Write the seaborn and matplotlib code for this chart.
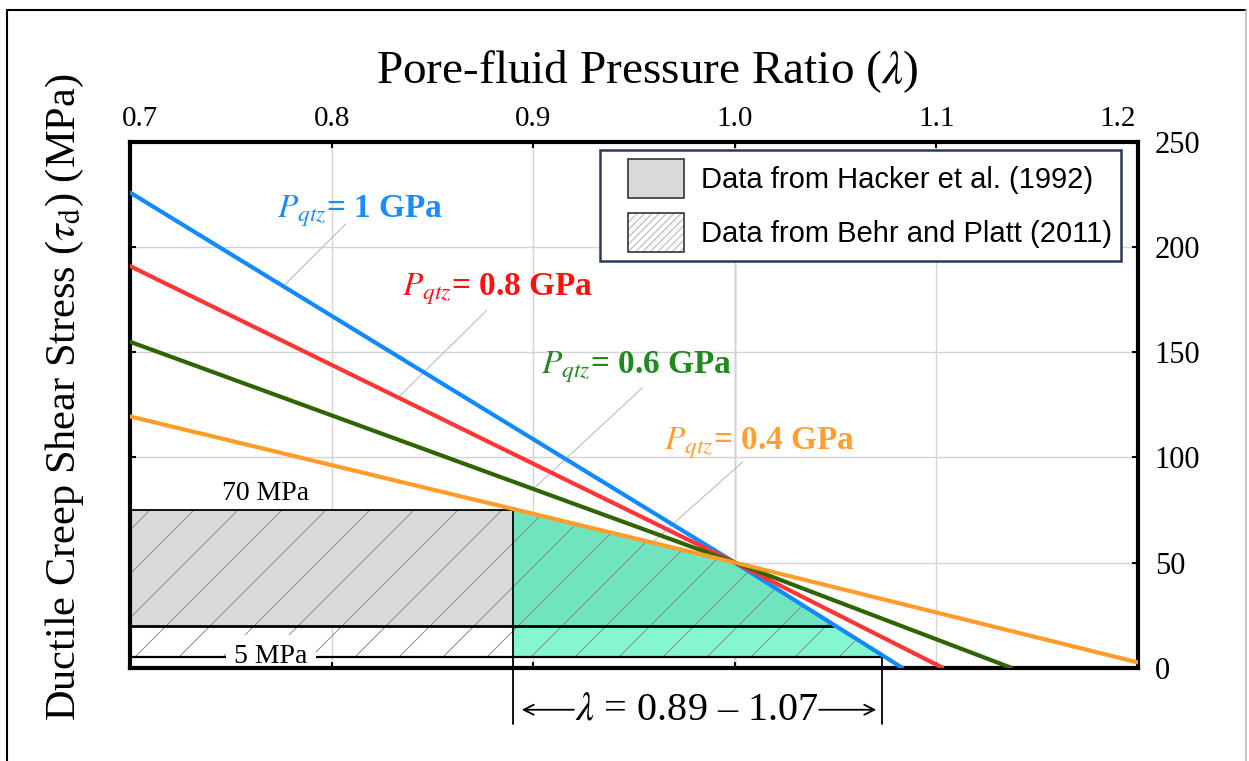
import matplotlib
matplotlib.use('Agg')
import matplotlib.pyplot as plt
import matplotlib.patches as mpatches
import matplotlib.transforms as mtransforms
from matplotlib.legend_handler import HandlerPatch
from matplotlib.lines import Line2D
import numpy as np
import pandas as pd
import seaborn as sns

# ductile creep shear stress vs pore-fluid pressure ratio, one line per P_qtz
lam_1gpa = [0.7, 1.0, 1.083]
tau_1gpa = [226, 50, 0]
lam_08gpa = [0.7, 1.0, 1.103]
tau_08gpa = [191, 50, 0]
lam_06gpa = [0.7, 1.0, 1.137]
tau_06gpa = [155, 50, 0]
lam_04gpa = [0.7, 1.0, 1.2]
tau_04gpa = [119.5, 50, 2.5]

p_names = ['1', '0.8', '0.6', '0.4']
line_colors = ['#0f8bff', '#ff3434', '#2f6400', '#ff9c2a']
label_colors = ['#1a8cff', '#ff1010', '#1f8a1f', '#ff9f2f']

# stress ranges
hacker_lo, hacker_hi = 20, 75      # Hacker et al. (1992)
behr_lo = 5                        # Behr and Platt (2011)
lam_lo, lam_hi = 0.89, 1.073       # resulting lambda range

x_ticks = [0.7, 0.8, 0.9, 1.0, 1.1, 1.2]
y_ticks = [0, 50, 100, 150, 200, 250]

# dpi picked so the hatch spacing matches; K turns "100 dpi points" into real points
DPI = 132
K = 100 / DPI

sns.set_style('white')
plt.rcParams['font.family'] = ['Liberation Serif', 'DejaVu Serif']
plt.rcParams['mathtext.fontset'] = 'stix'
plt.rcParams['hatch.linewidth'] = 0.7 * K
for key in ['text.color', 'axes.labelcolor', 'xtick.color', 'ytick.color']:
    plt.rcParams[key] = 'black'

lines = pd.DataFrame({
    'lam': lam_1gpa + lam_08gpa + lam_06gpa + lam_04gpa,
    'tau': tau_1gpa + tau_08gpa + tau_06gpa + tau_04gpa,
    'P': [p_names[0]] * 3 + [p_names[1]] * 3 + [p_names[2]] * 3 + [p_names[3]] * 3,
})

fig = plt.figure(figsize=(1249 / DPI, 761 / DPI), dpi=DPI)
ax = fig.add_axes([130 / 1249, 1 - 667.7 / 761, 1008 / 1249, 525.7 / 761])

line_sets = [(lam_1gpa, tau_1gpa), (lam_08gpa, tau_08gpa),
             (lam_06gpa, tau_06gpa), (lam_04gpa, tau_04gpa)]

# lower envelope of all lines
def envelope(x):
    return np.min([np.interp(x, l, t) for l, t in line_sets], axis=0)

# Hacker box
ax.fill_between([0.7, lam_lo], hacker_lo, hacker_hi, color='#d9d9d9', lw=0, zorder=1)

# green lambda window
xs = np.linspace(lam_lo, lam_hi, 400)
env = envelope(xs)
ax.fill_between(xs, behr_lo, np.minimum(hacker_lo, env), where=env > behr_lo,
                interpolate=True, color='#84f7d1', lw=0, zorder=1)
ax.fill_between(xs, hacker_lo, env, where=env > hacker_lo,
                interpolate=True, color='#6fe4bf', lw=0, zorder=1)

# Behr and Platt hatched range
xh = np.linspace(0.7, lam_hi, 500)
top = np.minimum(hacker_hi, envelope(xh))
ax.fill_between(xh, behr_lo, top, where=top > behr_lo, interpolate=True,
                facecolor='none', edgecolor='#8a8a8a', hatch='/', lw=0, zorder=2)

# outlines
ax.plot([0.7, lam_lo], [hacker_hi, hacker_hi], color='black', lw=1.3 * K, zorder=3)
ax.plot([lam_lo, lam_lo], [hacker_hi, -27], color='black', lw=1.3 * K, zorder=3, clip_on=False)
x_end20 = np.interp(-hacker_lo, -np.array(tau_1gpa), lam_1gpa)
ax.plot([0.7, x_end20], [hacker_lo, hacker_lo], color='black', lw=2 * K, zorder=3)
ax.plot([0.7, lam_hi], [behr_lo, behr_lo], color='black', lw=1.6 * K, zorder=2.2)
ax.plot([lam_hi, lam_hi], [behr_lo, -27], color='black', lw=1.3 * K, zorder=3, clip_on=False)

sns.lineplot(data=lines, x='lam', y='tau', hue='P', hue_order=p_names,
             palette=dict(zip(p_names, line_colors)), lw=3 * K, legend=False,
             ax=ax, zorder=4)

# line labels and leaders
label_pos = [(0.773, 217), (0.835, 180), (0.904, 143), (0.965, 107)]
leader_from = [(0.807, 211), (0.877, 170), (0.954, 133), (1.004, 98)]
leader_to = [0.776, 0.833, 0.900, 0.959]
for name, col, pos, lf, lt, (lx, ly) in zip(p_names, label_colors, label_pos,
                                            leader_from, leader_to, line_sets):
    ax.plot([lf[0], lt], [lf[1], np.interp(lt, lx, ly)], color='#bdbdbd', lw=0.8 * K, zorder=3)
    ax.text(pos[0], pos[1], r'$P_{qtz}$= ' + name + ' GPa', color=col,
            fontsize=24 * K, fontweight='bold', ha='left', va='center', zorder=5)

ax.text(0.767, 83, '70 MPa', fontsize=20 * K, ha='center', va='center')
ax.text(0.770, behr_lo + 0.5, '5 MPa', fontsize=20 * K, ha='center', va='center', zorder=2.4,
        bbox=dict(facecolor='white', edgecolor='none', pad=6 * K))

# lambda range annotation
ax.annotate('', xy=(0.8925, -20), xytext=(0.922, -20), annotation_clip=False,
            arrowprops=dict(arrowstyle='->', lw=1.3 * K, color='black', mutation_scale=18 * K))
ax.annotate('', xy=(1.072, -20), xytext=(1.040, -20), annotation_clip=False,
            arrowprops=dict(arrowstyle='->', lw=1.3 * K, color='black', mutation_scale=18 * K))
ax.text(0.981, -20, r'$\lambda$ = 0.89 – 1.07', fontsize=29 * K, ha='center', va='center',
        clip_on=False)

# grid
ax.set_xlim(0.7, 1.2)
ax.set_ylim(0, 250)
ax.set_xticks(x_ticks)
ax.set_yticks(y_ticks)
ax.set_xticklabels([str(v) for v in x_ticks])
ax.grid(True, color='#d4d4d4', lw=1 * K)
ax.axvline(1.0, color='#a0a0a0', lw=1 * K, zorder=0.5)
ax.set_axisbelow(True)
for s in ax.spines.values():
    s.set_linewidth(3 * K)
    s.set_color('black')
ax.tick_params(direction='in', length=4 * K, width=1.5 * K, top=True, bottom=True,
               left=True, right=True, labeltop=True, labelbottom=False,
               labelleft=False, labelright=True, colors='black')
ax.tick_params(axis='x', pad=7 * K, labelsize=21 * K)
ax.tick_params(axis='y', pad=12 * K, labelsize=22 * K)
tls = ax.xaxis.get_major_ticks()
tls[0].label2.set_transform(tls[0].label2.get_transform() +
                            mtransforms.ScaledTranslation(10 / DPI, 0, fig.dpi_scale_trans))
tls[-1].label2.set_transform(tls[-1].label2.get_transform() +
                             mtransforms.ScaledTranslation(-20 / DPI, 0, fig.dpi_scale_trans))
ax.set_xlabel('')
ax.set_ylabel('')

# legend, patches sit a bit in from the left of their handle box
def inset_patch(legend, orig_handle, xdescent, ydescent, width, height, fontsize):
    return mpatches.Rectangle((-xdescent + 0.25 * width, -ydescent), 0.75 * width, height)

h_hacker = mpatches.Patch(facecolor='#d9d9d9', edgecolor='#333333', lw=1.2 * K)
h_behr = (mpatches.Patch(facecolor='white', edgecolor='#b0b0b0', hatch='//////', lw=0),
          mpatches.Patch(facecolor='none', edgecolor='#333333', lw=1.2 * K))
leg = ax.legend([h_hacker, h_behr],
                ['Data from Hacker et al. (1992)', 'Data from Behr and Platt (2011)'],
                loc='upper right', bbox_to_anchor=(0.983, 0.985), borderaxespad=0,
                prop={'family': 'Liberation Sans', 'size': 21 * K},
                handler_map={mpatches.Patch: HandlerPatch(patch_func=inset_patch)},
                handlelength=2.57, handleheight=1.7, handletextpad=0.58,
                labelspacing=0.5, borderpad=0.3, fancybox=False, framealpha=1)
leg.get_frame().set_edgecolor('#263b57')
leg.get_frame().set_linewidth(1.8 * K)
leg.set_zorder(6)
for t in leg.get_texts():
    t.set_color('black')

# titles
fig.text(647 / 1249, 1 - 72 / 761, r'Pore-fluid Pressure Ratio ($\lambda$)',
         fontsize=34 * K, ha='center', va='center', color='black')
fig.text(65 / 1249, 1 - 397 / 761, r'Ductile Creep Shear Stress ($\tau_\mathrm{d}$) (MPa)',
         fontsize=30.5 * K, ha='center', va='center', rotation=90, color='black')

# outer frame
fig.add_artist(Line2D([7 / 1249, 7 / 1249], [0, 1 - 10 / 761], color='black', lw=1.5 * K,
                      transform=fig.transFigure))
fig.add_artist(Line2D([7 / 1249, 1246 / 1249], [1 - 10 / 761, 1 - 10 / 761], color='black',
                      lw=1.5 * K, transform=fig.transFigure))
fig.add_artist(Line2D([1246 / 1249, 1246 / 1249], [0, 1 - 10 / 761], color='#bbbbbb',
                      lw=1.2 * K, transform=fig.transFigure))

fig.savefig('out.png', dpi=DPI)
